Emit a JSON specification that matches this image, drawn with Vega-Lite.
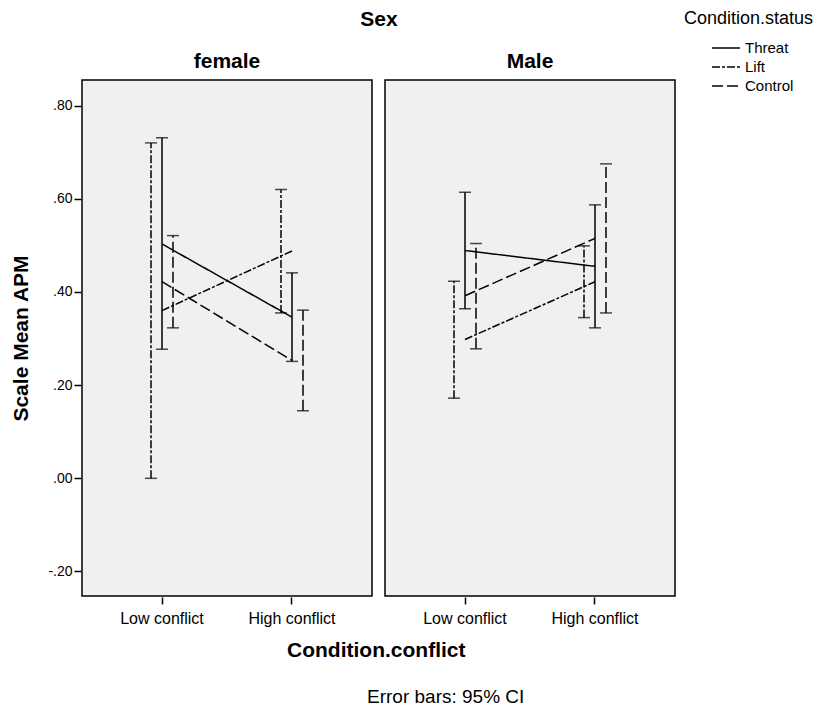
{
  "$schema": "https://vega.github.io/schema/vega-lite/v6.json",
  "background": "white",
  "padding": {"left": 10, "top": 9, "right": 2, "bottom": 2},
  "title": {"text": "Error bars: 95% CI", "orient": "bottom", "anchor": "start", "frame": "group", "font": "Liberation Sans", "fontSize": 19, "fontWeight": "normal", "color": "#000", "offset": 27, "dx": 285},
  "data": {"values": [
    {"sex": "female", "conflict": "Low conflict", "status": "Threat", "mean": 0.503, "lo": 0.277, "hi": 0.731},
    {"sex": "female", "conflict": "High conflict", "status": "Threat", "mean": 0.346, "lo": 0.251, "hi": 0.441},
    {"sex": "female", "conflict": "Low conflict", "status": "Lift", "mean": 0.36, "lo": 0.0, "hi": 0.72},
    {"sex": "female", "conflict": "High conflict", "status": "Lift", "mean": 0.488, "lo": 0.355, "hi": 0.62},
    {"sex": "female", "conflict": "Low conflict", "status": "Control", "mean": 0.422, "lo": 0.323, "hi": 0.521},
    {"sex": "female", "conflict": "High conflict", "status": "Control", "mean": 0.253, "lo": 0.145, "hi": 0.361},
    {"sex": "Male", "conflict": "Low conflict", "status": "Threat", "mean": 0.489, "lo": 0.364, "hi": 0.614},
    {"sex": "Male", "conflict": "High conflict", "status": "Threat", "mean": 0.455, "lo": 0.323, "hi": 0.587},
    {"sex": "Male", "conflict": "Low conflict", "status": "Lift", "mean": 0.298, "lo": 0.172, "hi": 0.423},
    {"sex": "Male", "conflict": "High conflict", "status": "Lift", "mean": 0.422, "lo": 0.345, "hi": 0.499},
    {"sex": "Male", "conflict": "Low conflict", "status": "Control", "mean": 0.392, "lo": 0.278, "hi": 0.504},
    {"sex": "Male", "conflict": "High conflict", "status": "Control", "mean": 0.515, "lo": 0.355, "hi": 0.675}
  ]},
  "vconcat": [
    {
      "title": {"text": "Condition.conflict", "orient": "bottom", "anchor": "start", "frame": "group", "font": "Liberation Sans", "fontSize": 21, "fontWeight": "bold", "color": "#000", "offset": 14, "dx": 205},
      "facet": {"column": {"field": "sex", "type": "nominal", "sort": ["female", "Male"], "title": "Sex"}},
      "spacing": 11,
      "spec": {
        "width": 290,
        "height": 516,
        "encoding": {
          "x": {"field": "conflict", "type": "nominal", "sort": ["Low conflict", "High conflict"],
            "scale": {"type": "band", "paddingInner": 0, "paddingOuter": 0.1154},
            "title": null},
          "strokeDash": {"field": "status", "type": "nominal",
            "scale": {"domain": ["Threat", "Lift", "Control"], "range": [[1, 0], [8, 2, 3, 2], [11, 4]]},
            "title": "Condition.status"}
        },
        "layer": [
          {
            "mark": {"type": "line", "color": "#000", "strokeWidth": 1.5},
            "encoding": {
              "x": {"field": "conflict", "type": "nominal", "sort": ["Low conflict", "High conflict"], "bandPosition": 0.5},
              "y": {"field": "mean", "type": "quantitative",
                "scale": {"domain": [-0.2526, 0.855], "nice": false, "zero": false},
                "axis": {"values": [-0.2, 0, 0.2, 0.4, 0.6, 0.8], "labelExpr": "(datum.value < 0 ? '-' : '') + replace(format(abs(datum.value), '.2f'), '0.', '.')"},
                "title": "Scale Mean APM"}
            }
          },
          {
            "mark": {"type": "rule", "color": "#000", "strokeWidth": 1.5},
            "encoding": {
              "xOffset": {"field": "status", "type": "nominal", "scale": {"domain": ["Lift", "Threat", "Control"], "range": [48.5, 81.5], "paddingInner": 0, "paddingOuter": 0}},
              "y": {"field": "lo", "type": "quantitative"},
              "y2": {"field": "hi"}
            }
          },
          {
            "mark": {"type": "tick", "color": "#000", "thickness": 1.5, "size": 12},
            "encoding": {
              "xOffset": {"field": "status", "type": "nominal"},
              "y": {"field": "lo", "type": "quantitative"},
              "strokeDash": {"value": [1, 0]}
            }
          },
          {
            "mark": {"type": "tick", "color": "#000", "thickness": 1.5, "size": 12},
            "encoding": {
              "xOffset": {"field": "status", "type": "nominal"},
              "y": {"field": "hi", "type": "quantitative"},
              "strokeDash": {"value": [1, 0]}
            }
          }
        ]
      }
    }
  ],
  "config": {
    "font": "Liberation Sans",
    "view": {"fill": "#f0f0f0", "stroke": "#000", "strokeWidth": 1.5},
    "axis": {"grid": false, "domain": false, "tickColor": "#000", "tickWidth": 1.5, "tickSize": 7,
      "labelColor": "#000", "labelFontSize": 14, "labelFont": "Liberation Sans",
      "titleColor": "#000", "titleFontSize": 21, "titleFontWeight": "bold", "titleFont": "Liberation Sans"},
    "axisX": {"labelAngle": 0, "labelPadding": 6, "labelFontSize": 16},
    "axisY": {"labelPadding": 2, "titlePadding": 16},
    "header": {"labelFont": "Liberation Sans", "labelFontSize": 21, "labelFontWeight": "bold", "labelColor": "#000",
      "titleFont": "Liberation Sans", "titleFontSize": 21, "titleFontWeight": "bold", "titleColor": "#000", "labelPadding": 7, "titlePadding": 11},
    "legend": {"orient": "none", "legendX": 602, "legendY": -70, "titleFontSize": 18, "titleFontWeight": "normal", "titleColor": "#000", "titleFont": "Liberation Sans",
      "titleAnchor": "start", "labelFontSize": 15, "labelColor": "#000", "labelFont": "Liberation Sans", "symbolOffset": 31, "labelOffset": 8,
      "symbolStrokeColor": "#000", "symbolStrokeWidth": 1.5, "symbolType": "M-1.4,0L1.4,0", "symbolSize": 400, "rowPadding": 0, "titlePadding": 9}
  }
}
